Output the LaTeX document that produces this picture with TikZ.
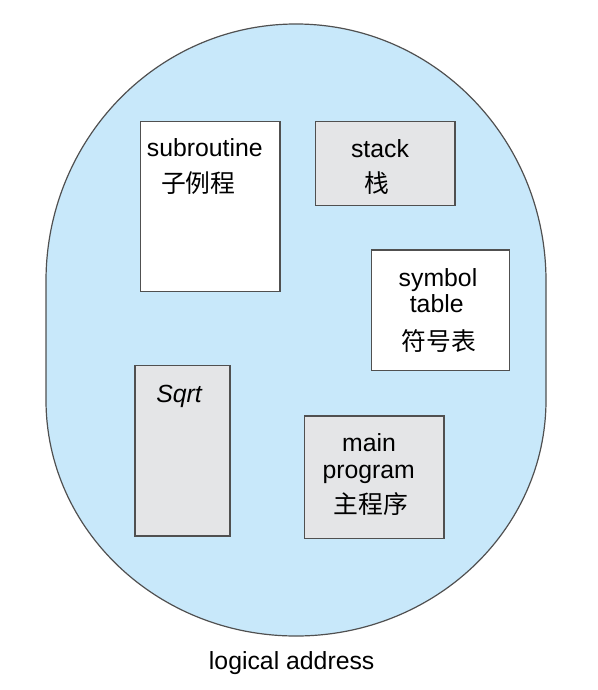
\documentclass[tikz,border=0pt]{standalone}
\usepackage{fontspec}
\setmainfont{Liberation Sans}
\newfontfamily\cjk{Noto Sans CJK SC}
\usepackage{tikz}
\definecolor{spaceblue}{RGB}{200,232,250}
\definecolor{segfill}{RGB}{228,229,231}
\definecolor{edgegray}{RGB}{80,80,80}
\tikzstyle{segwhite} = [draw=edgegray, line width=0.6pt, fill=white, inner sep=0pt]
\tikzstyle{segshade} = [draw=edgegray, line width=0.6pt, fill=segfill, inner sep=0pt]
\tikzstyle{lbl} = [inner sep=0pt, anchor=base, font=\fontsize{12.4}{14}\selectfont]
\tikzstyle{zh} = [inner sep=0pt, anchor=base, font=\fontsize{12.4}{14}\selectfont\cjk]

\begin{document}
\begin{tikzpicture}[x=0.5pt, y=-0.5pt]
			\useasboundingbox (0,0) rectangle (598,690);
			\draw[edgegray, line width=0.6pt, fill=spaceblue] (46,281)
				arc[start angle=180, end angle=0, x radius=125pt, y radius=128.5pt]
				-- (546,400)
				arc[start angle=0, end angle=-180, x radius=125pt, y radius=118pt]
				-- cycle;
			\node[segwhite, minimum width=69.65pt, minimum height=85pt] (sub) at (210.35,206.7) {};
			\node[segshade, minimum width=69.65pt, minimum height=42pt] (stk) at (385.35,163.7) {};
			\node[segwhite, minimum width=68.8pt, minimum height=60.35pt] (sym) at (440.5,310.35) {};
			\node[segshade, minimum width=47.5pt, minimum height=85.15pt] (sqrt) at (182.5,450.85) {};
			\node[segshade, minimum width=69.85pt, minimum height=61.35pt] (main) at (374.15,477.35) {};
			\node[lbl] (subtxt) at (204.8,156.7) {subroutine};
			\node[zh] (subzh) at (198.3,192) {子例程};
			\node[lbl] (stktxt) at (380,157) {stack};
			\node[zh] (stkzh) at (376.7,192) {栈};
			\node[lbl] (symtxt) at (438,286) {symbol};
			\node[lbl] (tbltxt) at (436.7,312.7) {table};
			\node[zh] (symzh) at (439,350) {符号表};
			\node[lbl] (sqrttxt) at (179,402.3) {\itshape Sqrt};
			\node[lbl] (maintxt) at (369,451.7) {main};
			\node[lbl] (progtxt) at (368.7,478.3) {program};
			\node[zh] (mainzh) at (370.8,513) {主程序};
			\node[lbl] (addr) at (291.7,669) {logical address};
		\end{tikzpicture}
\end{document}
